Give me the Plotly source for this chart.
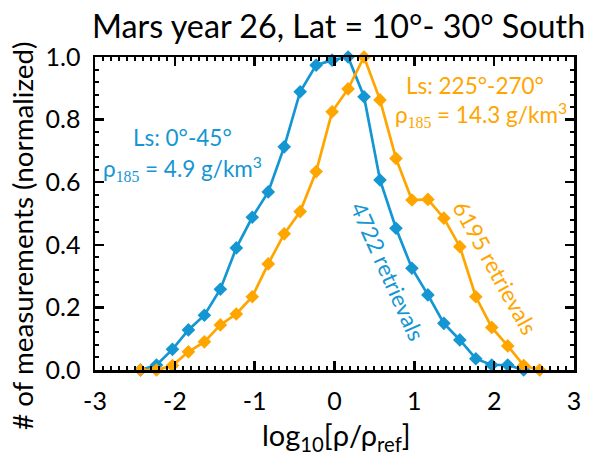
import plotly.graph_objects as go

# ---- data ----
bin_centers = [-2.43, -2.23, -2.03, -1.83, -1.63, -1.43, -1.23, -1.03, -0.83, -0.63,
               -0.43, -0.23, -0.03, 0.17, 0.37, 0.57, 0.77, 0.97, 1.17, 1.37,
               1.57, 1.77, 1.97, 2.17, 2.37, 2.57]
blue_vals = [0.0, 0.016, 0.066, 0.128, 0.175, 0.258, 0.39, 0.488, 0.569, 0.713,
             0.889, 0.974, 0.99, 1.0, 0.873, 0.607, 0.453, 0.325, 0.24, 0.149,
             0.096, 0.036, 0.016, 0.016, 0.0]
orange_vals = [0.0, 0.0, 0.014, 0.058, 0.09, 0.144, 0.179, 0.234, 0.339, 0.435,
               0.506, 0.634, 0.825, 0.898, 1.0, 0.863, 0.676, 0.543, 0.545, 0.485,
               0.394, 0.234, 0.136, 0.077, 0.014, 0.0]
x_tick_vals = [-3, -2, -1, 0, 1, 2, 3]
x_tick_text = ["-3", "-2", "-1", "0", "1", "2", "3"]
y_tick_vals = [0.0, 0.2, 0.4, 0.6, 0.8, 1.0]
y_tick_text = ["0.0", "0.2", "0.4", "0.6", "0.8", "1.0"]

BLUE = "#1496d2"
ORANGE = "#ffa500"
FONT = "Lato"
SERIF = "Liberation Serif"

fig = go.Figure()
fig.add_trace(go.Scatter(x=bin_centers[:len(blue_vals)], y=blue_vals, mode="lines+markers",
                         line=dict(color=BLUE, width=2.7),
                         marker=dict(symbol="diamond", size=10.5, color=BLUE),
                         cliponaxis=False, showlegend=False, hoverinfo="skip"))
fig.add_trace(go.Scatter(x=bin_centers, y=orange_vals, mode="lines+markers",
                         line=dict(color=ORANGE, width=2.7),
                         marker=dict(symbol="diamond", size=10.5, color=ORANGE),
                         cliponaxis=False, showlegend=False, hoverinfo="skip"))

sub = lambda t: f'<sub><span style="font-family:{SERIF}">{t}</span></sub>'

annotations = [
    dict(x=-1.91, y=0.744, text="Ls: 0°-45°", color=BLUE, angle=0),
    dict(x=-1.90, y=0.645, text=f"ρ{sub('185')} = 4.9 g/km<sup>3</sup>", color=BLUE, angle=0),
    dict(x=1.76, y=0.91, text="Ls: 225°-270°", color=ORANGE, angle=0),
    dict(x=1.83, y=0.815, text=f"ρ{sub('185')} = 14.3 g/km<sup>3</sup>", color=ORANGE, angle=0),
    dict(x=0.67, y=0.316, text="4722 retrievals", color=BLUE, angle=66),
    dict(x=2.01, y=0.327, text="6195 retrievals", color=ORANGE, angle=61),
]
for a in annotations:
    fig.add_annotation(x=a["x"], y=a["y"], xref="x", yref="y", text=a["text"],
                       showarrow=False, textangle=a["angle"],
                       font=dict(family=FONT, size=22.5, color=a["color"]))

# axis titles (placed as paper annotations for precise positioning)
fig.add_annotation(x=0.505, y=-0.214, xref="paper", yref="paper",
                   text="log<sub>10</sub>[ρ/ρ<sub>ref</sub>]", showarrow=False,
                   xanchor="center", yanchor="middle",
                   font=dict(family=FONT, size=29, color="black"))
fig.add_annotation(x=-0.151, y=0.43, xref="paper", yref="paper",
                   text="# of measurements (normalized)", showarrow=False,
                   textangle=-90, xanchor="center", yanchor="middle",
                   font=dict(family=FONT, size=27.8, color="black"))

axis_common = dict(showline=True, linecolor="black", linewidth=2.5, mirror="allticks",
                   ticks="inside", ticklen=9, tickwidth=2.5, tickcolor="black",
                   showgrid=False, zeroline=False,
                   tickfont=dict(family=FONT, size=25, color="black"))

fig.update_xaxes(range=[-3, 3], tickvals=x_tick_vals, ticktext=x_tick_text,
                 minor=dict(ticks="inside", dtick=0.1, ticklen=4, tickwidth=2, tickcolor="black"),
                 ticklabelstandoff=7,
                 **axis_common)
fig.update_yaxes(range=[0, 1.0], tickvals=y_tick_vals, ticktext=y_tick_text,
                 minor=dict(ticks="inside", dtick=0.04, ticklen=4, tickwidth=2, tickcolor="black"),
                 ticklabelstandoff=7,
                 **axis_common)

fig.update_layout(
    width=593, height=459,
    margin=dict(l=95, r=17, t=57, b=89),
    paper_bgcolor="white", plot_bgcolor="white",
    hovermode=False,
    title=dict(text="Mars year 26, Lat = 10°- 30° South", x=0.571, xanchor="center",
               y=0.9675, yanchor="top",
               font=dict(family=FONT, size=32.3, color="black")),
)

fig.write_html("out.html", config={"displayModeBar": False, "staticPlot": True},
               post_script="document.body.style.margin='0';")
